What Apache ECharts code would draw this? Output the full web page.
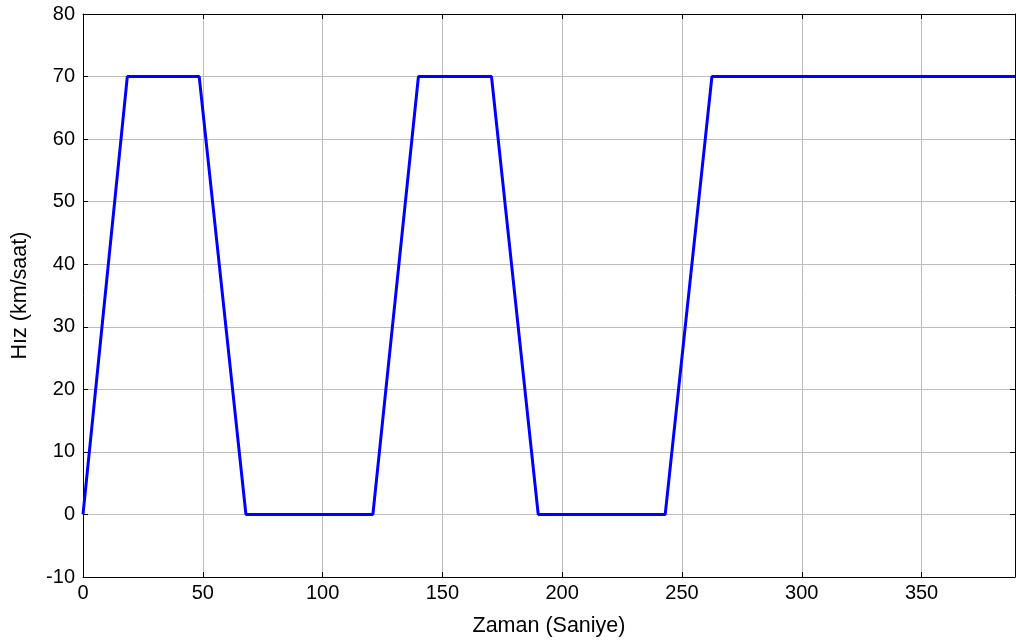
<!DOCTYPE html>
<html>
<head>
<meta charset="utf-8">
<script src="https://cdn.jsdelivr.net/npm/echarts@6/dist/echarts.min.js"></script>
<style>html,body{margin:0;padding:0;background:#fff}#c{width:1016px;height:642px}</style>
</head>
<body>
<div id="c"></div>
<script>
var times = [0, 18.5, 48.5, 68, 121, 140, 170.5, 190, 243, 262.5, 389];
var speeds = [0, 70, 70, 0, 0, 70, 70, 0, 0, 70, 70];
var xTicks = [0, 50, 100, 150, 200, 250, 300, 350];
var yTicks = [-10, 0, 10, 20, 30, 40, 50, 60, 70, 80];
var xName = 'Zaman (Saniye)';
var yName = 'Hız (km/saat)';

var pts = times.map(function (t, i) { return [t, speeds[i]]; });
var font = 'Liberation Sans, Arial, sans-serif';
var chart = echarts.init(document.getElementById('c'));
var common = {
  axisLine: { show: true, onZero: false, lineStyle: { color: '#000', width: 1 } },
  axisTick: { show: true, inside: true, length: 5, lineStyle: { color: '#000' } },
  splitLine: { show: false }
};
chart.setOption({
  animation: false,
  grid: { left: 83, right: 1, top: 14, bottom: 65, containLabel: false, outerBoundsMode: 'none' },
  xAxis: [
    Object.assign({}, common, {
      type: 'value', min: 0, max: times[times.length - 1], interval: 50,
      position: 'bottom',
      name: xName, nameLocation: 'middle', nameGap: 38,
      nameTextStyle: { color: '#000', fontSize: 21.5, fontFamily: font },
      axisLabel: { color: '#000', fontSize: 20, fontFamily: font, margin: 6,
        showMaxLabel: false,
        formatter: function (v) { return xTicks.indexOf(v) >= 0 ? String(v) : ''; } },
      splitLine: { show: true, lineStyle: { color: '#bcbcbc', width: 1 } }
    }),
    Object.assign({}, common, {
      type: 'value', min: 0, max: times[times.length - 1], interval: 50,
      position: 'top', axisLabel: { show: false }
    })
  ],
  yAxis: [
    Object.assign({}, common, {
      type: 'value', min: yTicks[0], max: yTicks[yTicks.length - 1], interval: 10,
      position: 'left',
      name: yName, nameLocation: 'middle', nameGap: 52,
      nameTextStyle: { color: '#000', fontSize: 21.5, fontFamily: font },
      axisLabel: { color: '#000', fontSize: 20, fontFamily: font, margin: 8 },
      splitLine: { show: true, lineStyle: { color: '#bcbcbc', width: 1 } }
    }),
    Object.assign({}, common, {
      type: 'value', min: yTicks[0], max: yTicks[yTicks.length - 1], interval: 10,
      position: 'right', axisLabel: { show: false }
    })
  ],
  series: [{
    type: 'line', data: pts, showSymbol: false, xAxisIndex: 0, yAxisIndex: 0,
    lineStyle: { color: '#0000ff', width: 3 }, z: 5
  }]
});
</script>
</body>
</html>
